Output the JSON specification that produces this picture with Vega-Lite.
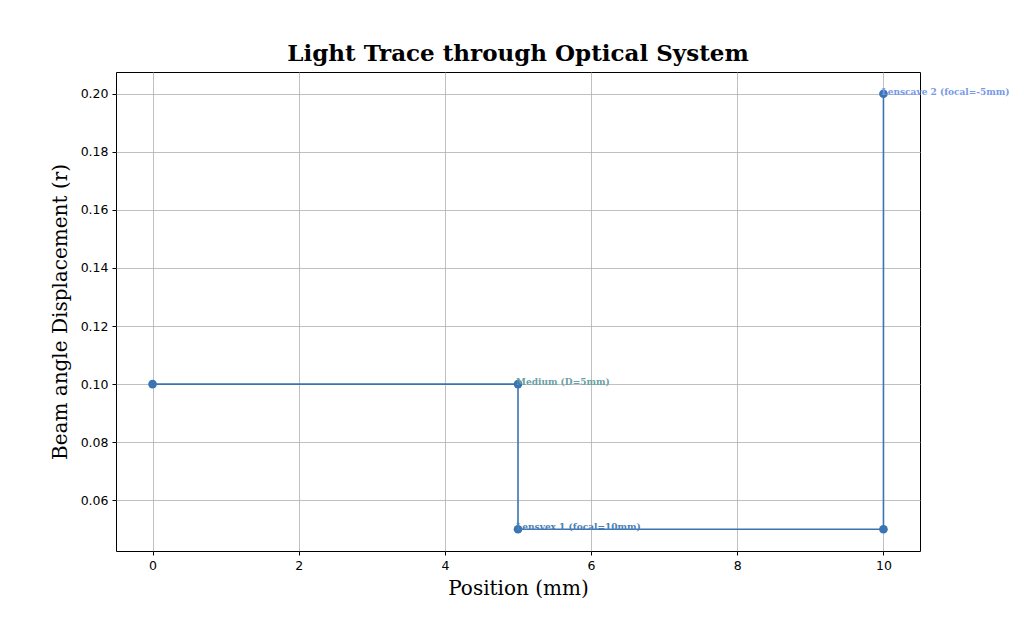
{
  "$schema": "https://vega.github.io/schema/vega-lite/v6.json",
  "width": 804,
  "height": 479,
  "autosize": {"type": "none"},
  "padding": {"left": 116, "top": 72, "right": 104, "bottom": 68},
  "background": "white",
  "title": {
    "text": "Light Trace through Optical System",
    "font": "DejaVu Serif",
    "fontSize": 23,
    "fontWeight": "bold",
    "color": "black",
    "anchor": "middle",
    "offset": 6
  },
  "config": {
    "view": {"stroke": "black", "strokeWidth": 1},
    "axis": {
      "labelFont": "DejaVu Sans",
      "labelFontSize": 12.5,
      "labelColor": "black",
      "labelPadding": 4,
      "titleFont": "DejaVu Serif",
      "titleFontSize": 20,
      "titleFontWeight": "normal",
      "titleColor": "black",
      "gridColor": "#b0b0b0",
      "gridWidth": 0.8,
      "domain": false,
      "tickColor": "black",
      "tickSize": 4
    }
  },
  "data": {
    "values": [
      {"x": 0, "y": 0.1, "order": 0, "label": ""},
      {"x": 5, "y": 0.1, "order": 1, "label": "Medium (D=5mm)", "kind": "a"},
      {"x": 5, "y": 0.05, "order": 2, "label": "Lensvex 1 (focal=10mm)", "kind": "b"},
      {"x": 10, "y": 0.05, "order": 3, "label": ""},
      {"x": 10, "y": 0.2, "order": 4, "label": "Lenscave 2 (focal=-5mm)", "kind": "c"}
    ]
  },
  "encoding": {
    "x": {
      "field": "x",
      "type": "quantitative",
      "scale": {"domain": [-0.5, 10.5], "nice": false, "zero": false},
      "axis": {"values": [0, 2, 4, 6, 8, 10], "title": "Position (mm)", "titlePadding": 7}
    },
    "y": {
      "field": "y",
      "type": "quantitative",
      "scale": {"domain": [0.0425, 0.2075], "nice": false, "zero": false},
      "axis": {"values": [0.06, 0.08, 0.1, 0.12, 0.14, 0.16, 0.18, 0.2], "format": ".2f", "title": "Beam angle Displacement (r)", "titlePadding": 10}
    }
  },
  "layer": [
    {
      "mark": {"type": "line", "color": "#3a74b2", "strokeWidth": 1.6},
      "encoding": {"order": {"field": "order", "type": "quantitative"}}
    },
    {
      "mark": {"type": "point", "filled": true, "color": "#3a74b2", "size": 75, "opacity": 1}
    },
    {
      "transform": [{"filter": "datum.label != ''"}],
      "mark": {"type": "text", "align": "left", "baseline": "middle", "dx": -2, "dy": -2, "font": "DejaVu Serif", "fontSize": 9, "fontWeight": "bold"},
      "encoding": {
        "text": {"field": "label"},
        "color": {
          "field": "kind",
          "type": "nominal",
          "scale": {"domain": ["a", "b", "c"], "range": ["#6a9fa6", "#4a7fb5", "#7799e8"]},
          "legend": null
        }
      }
    }
  ]
}
